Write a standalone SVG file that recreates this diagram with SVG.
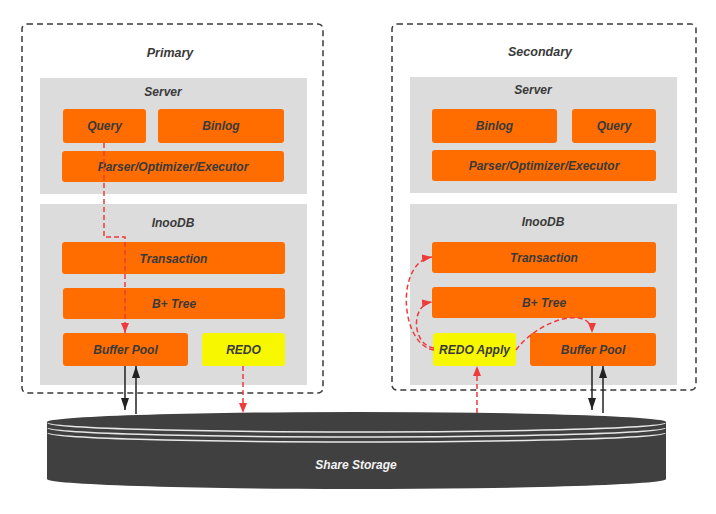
<svg xmlns="http://www.w3.org/2000/svg" width="716" height="514" viewBox="0 0 716 514">
<defs>
<style>
.outer{fill:none;stroke:#3a3a3a;stroke-width:1.5;stroke-dasharray:6,4}
.panel{fill:#dcdcdc}
.orange{fill:#ff6d00}
.yellow{fill:#f7f700}
.t{font-family:"Liberation Sans",Arial,sans-serif;font-weight:bold;font-style:italic;font-size:12px;fill:#3a3a3a;text-anchor:middle;dominant-baseline:central}
.title{font-size:12.5px}
.red{fill:none;stroke:#ee3b3b;stroke-width:1.5;stroke-dasharray:5,3}
.blk{fill:none;stroke:#222;stroke-width:1.5}
.wl{fill:none;stroke:#e8e8e8;stroke-width:1.5}
</style>
<marker id="ar" viewBox="0 0 10 8" refX="10" refY="4" markerWidth="10" markerHeight="8" markerUnits="userSpaceOnUse" orient="auto"><path d="M0,0 L10,4 L0,8 z" fill="#ee3b3b"/></marker>
<marker id="ab" viewBox="0 0 12 8" refX="12" refY="4" markerWidth="12" markerHeight="8" markerUnits="userSpaceOnUse" orient="auto"><path d="M0,0 L12,4 L0,8 z" fill="#222"/></marker>
</defs>
<rect width="716" height="514" fill="#fff"/>

<g id="primary">
<rect class="outer" x="22" y="24" width="301" height="369" rx="5"/>
<text class="t title" x="170" y="53">Primary</text>
</g>
<g id="primary-server">
<rect class="panel" x="40" y="78" width="267" height="116"/>
<text class="t" x="163" y="92">Server</text>
</g>
<g id="p-query"><rect class="orange" x="63" y="109" width="83" height="34" rx="3"/><text class="t" x="104.5" y="126">Query</text></g>
<g id="p-binlog"><rect class="orange" x="158" y="109" width="126" height="34" rx="3"/><text class="t" x="221" y="126">Binlog</text></g>
<g id="p-parser"><rect class="orange" x="62" y="151" width="222" height="31" rx="3"/><text class="t" x="173" y="166.5">Parser/Optimizer/Executor</text></g>
<g id="primary-innodb">
<rect class="panel" x="40" y="204" width="267" height="181"/>
<text class="t" x="173" y="223">InooDB</text>
</g>
<g id="p-transaction"><rect class="orange" x="62" y="242" width="223" height="32" rx="3"/><text class="t" x="173.5" y="259">Transaction</text></g>
<g id="p-btree"><rect class="orange" x="63" y="288" width="222" height="31" rx="3"/><text class="t" x="174" y="304">B+ Tree</text></g>
<g id="p-bufferpool"><rect class="orange" x="63" y="333" width="125" height="33" rx="3"/><text class="t" x="125.5" y="350">Buffer Pool</text></g>
<g id="p-redo"><rect class="yellow" x="202" y="333" width="83" height="33" rx="3"/><text class="t" x="243.5" y="350">REDO</text></g>

<g id="secondary">
<rect class="outer" x="392" y="24" width="304" height="366" rx="5"/>
<text class="t title" x="540" y="52">Secondary</text>
</g>
<g id="secondary-server">
<rect class="panel" x="410" y="77" width="267" height="116"/>
<text class="t" x="533" y="90">Server</text>
</g>
<g id="s-binlog"><rect class="orange" x="432" y="109" width="125" height="34" rx="3"/><text class="t" x="494.5" y="126">Binlog</text></g>
<g id="s-query"><rect class="orange" x="572" y="109" width="84" height="34" rx="3"/><text class="t" x="614" y="126">Query</text></g>
<g id="s-parser"><rect class="orange" x="432" y="150" width="224" height="31" rx="3"/><text class="t" x="544" y="165.5">Parser/Optimizer/Executor</text></g>
<g id="secondary-innodb">
<rect class="panel" x="410" y="204" width="267" height="181"/>
<text class="t" x="543" y="222">InooDB</text>
</g>
<g id="s-transaction"><rect class="orange" x="432" y="242" width="224" height="31" rx="3"/><text class="t" x="544" y="257.5">Transaction</text></g>
<g id="s-btree"><rect class="orange" x="432" y="287" width="224" height="31" rx="3"/><text class="t" x="544" y="302.5">B+ Tree</text></g>
<g id="s-redoapply"><rect class="yellow" x="433" y="333" width="83" height="33" rx="3"/><text class="t" x="474.5" y="350">REDO Apply</text></g>
<g id="s-bufferpool"><rect class="orange" x="530" y="333" width="126" height="33" rx="3"/><text class="t" x="593" y="350">Buffer Pool</text></g>

<g id="storage">
<path d="M47,422 A309.5,10 0 0 1 666,422 L666,479 A309.5,10 0 0 1 47,479 Z" fill="#404040"/>
<path class="wl" d="M48,423 A308.5,9 0 0 0 665,423"/>
<path class="wl" d="M48,428 A308.5,9 0 0 0 665,428"/>
<path class="wl" d="M48,433 A308.5,9 0 0 0 665,433"/>
<text class="t" x="356" y="465" style="fill:#f2f2f2">Share Storage</text>
</g>

<g id="connectors">
<path class="red" d="M104,143 L104,237 L125,237 L125,333" marker-end="url(#ar)"/>
<path class="red" d="M243,366 L243,413" marker-end="url(#ar)"/>
<path class="blk" d="M125,366 L125,410" marker-end="url(#ab)"/>
<path class="blk" d="M136,414 L136,366" marker-end="url(#ab)"/>
<path class="red" d="M477,413 L477,366" marker-end="url(#ar)"/>
<path class="blk" d="M592,366 L592,410" marker-end="url(#ab)"/>
<path class="blk" d="M603,413 L603,366" marker-end="url(#ab)"/>
<path class="red" d="M434,350 C400,345 395,262 432,257" marker-end="url(#ar)"/>
<path class="red" d="M434,348 C412,345 410,305 432,302" marker-end="url(#ar)"/>
<path class="red" d="M516,350 C540,318 592,305 592,333" marker-end="url(#ar)"/>
</g>
</svg>
